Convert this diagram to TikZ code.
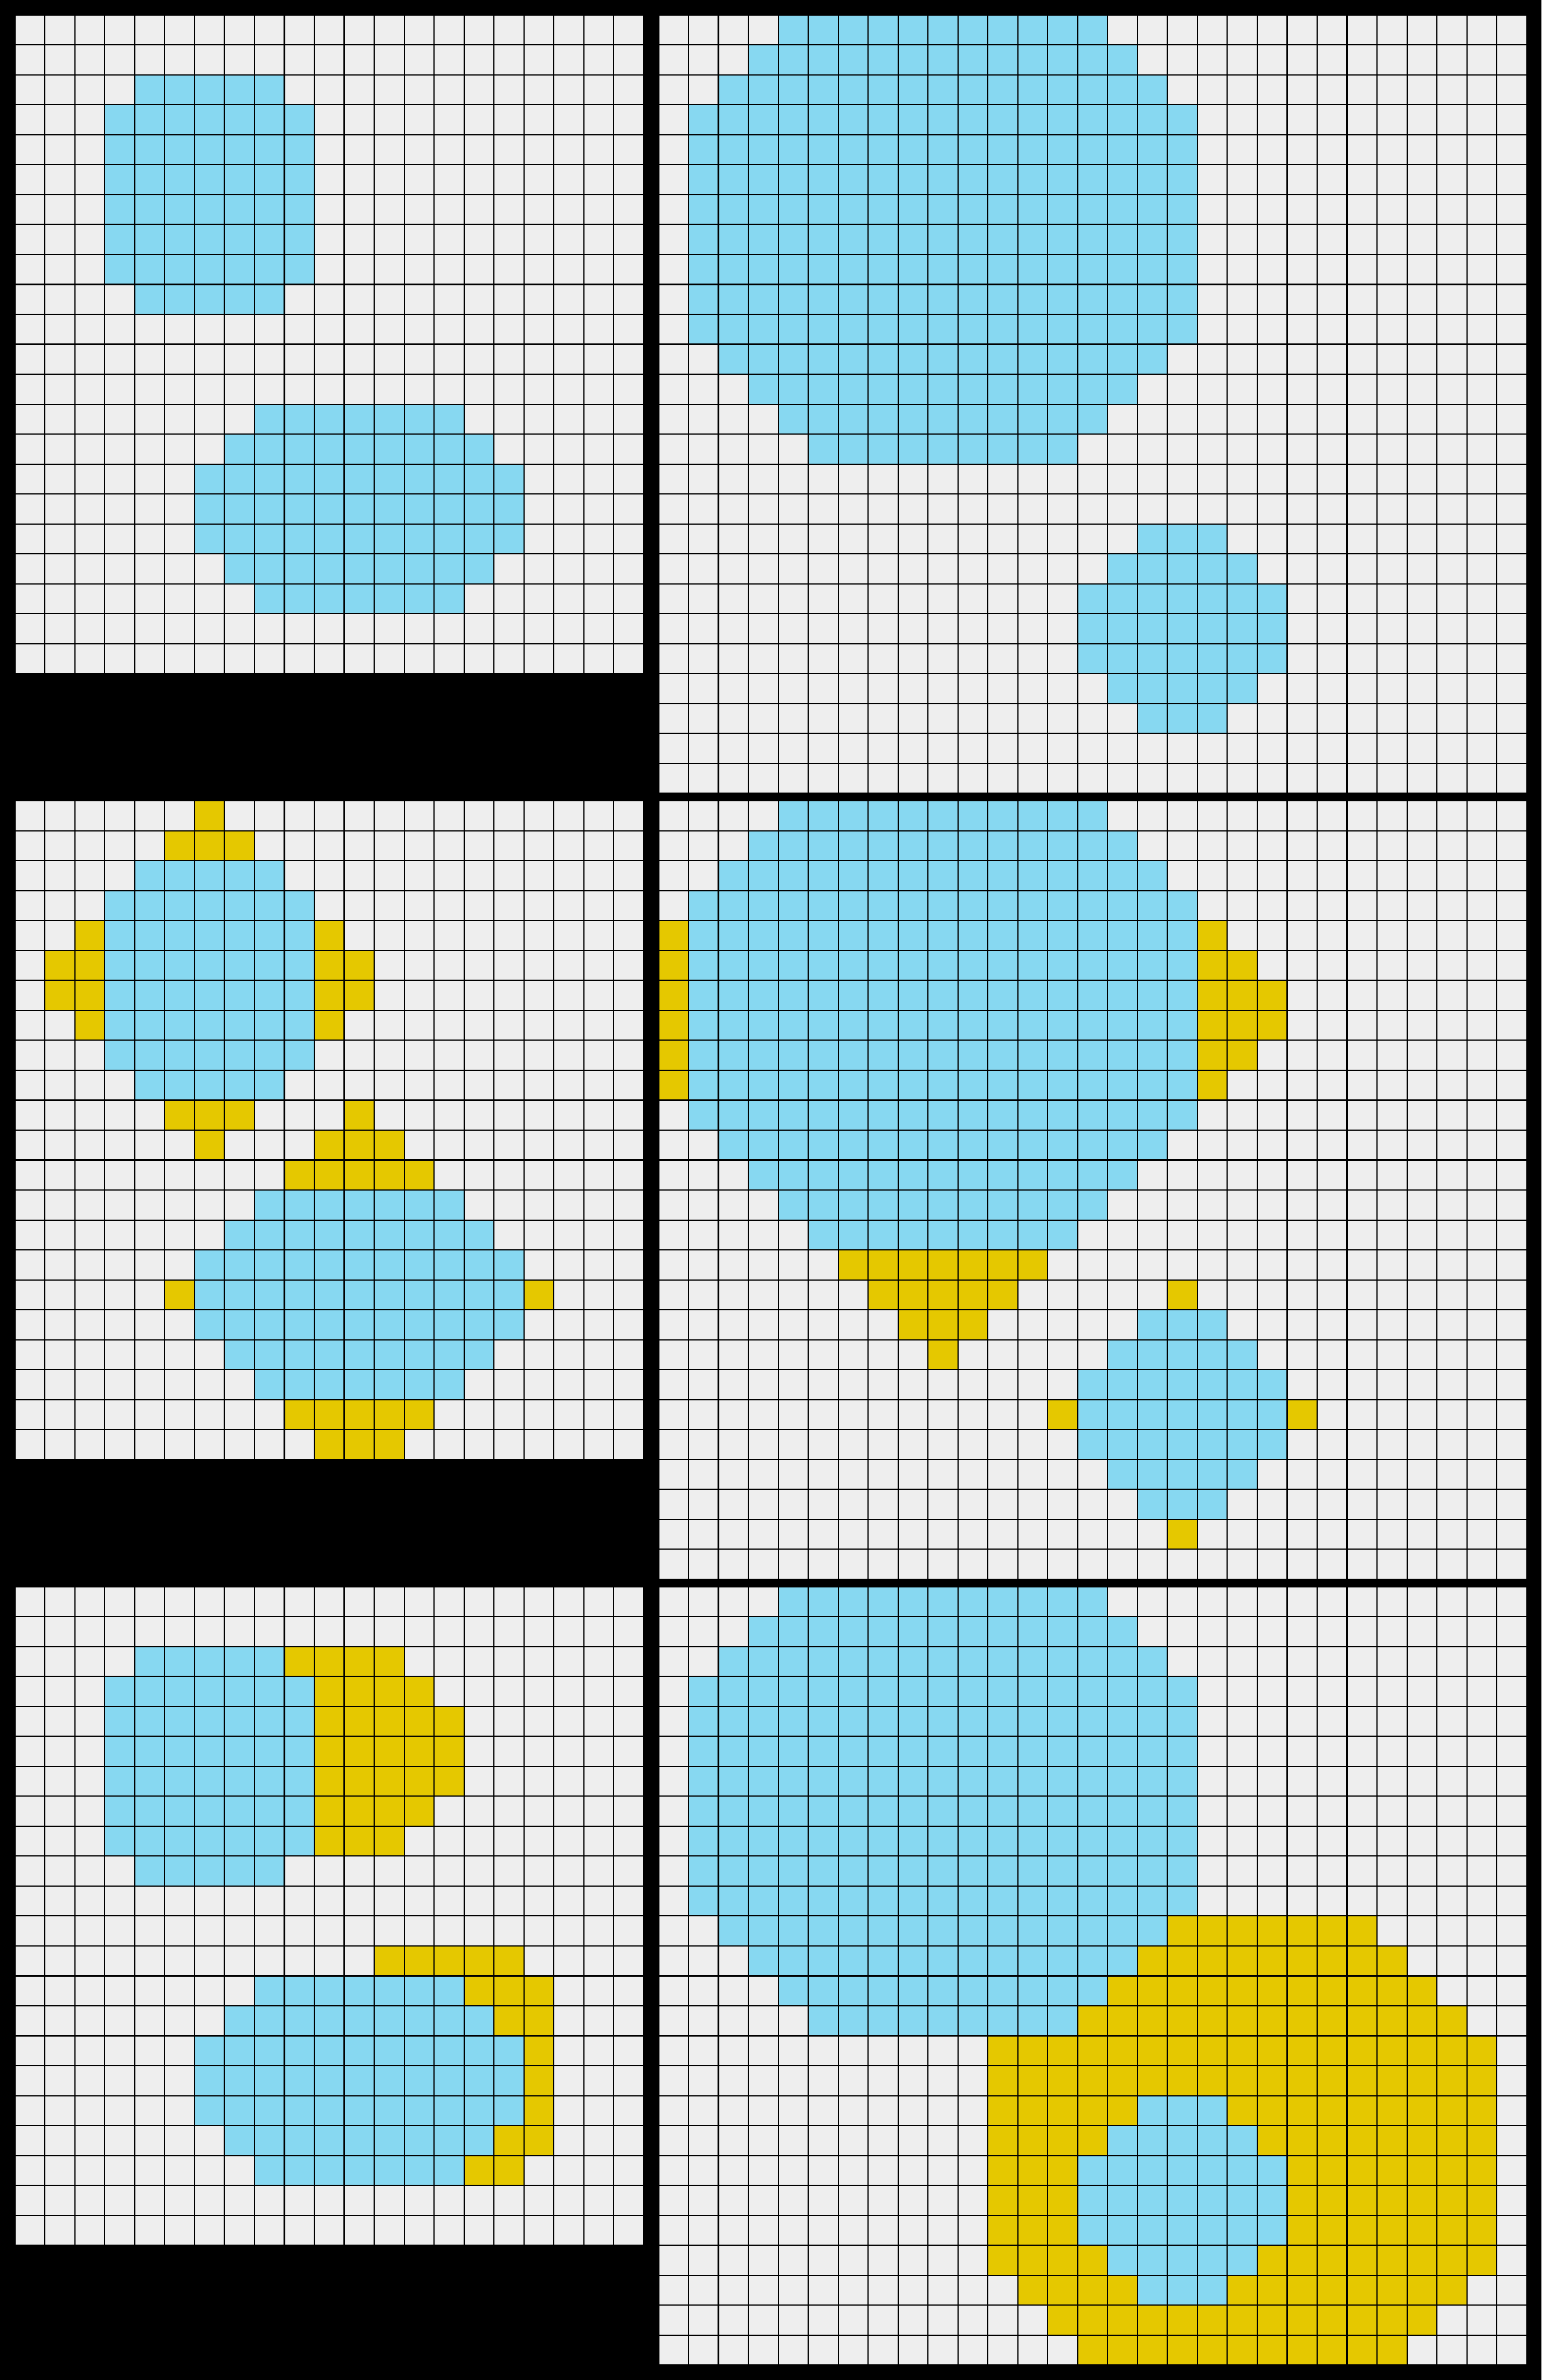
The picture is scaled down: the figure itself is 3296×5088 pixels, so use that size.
\documentclass[tikz,border=0pt]{standalone}
\definecolor{cellbg}{HTML}{EEEEEE}
\definecolor{bl}{HTML}{87D8F1}
\definecolor{ye}{HTML}{E5C800}
\tikzset{gridline/.style={draw=black, line width=2.6pt}}
\newcommand{\gridbase}[4]{\fill[cellbg] (#1,#2) rectangle ({#1+#3*64},{#2+#4*64});}
\newcommand{\gridlines}[4]{%
  \foreach \i in {0,...,#3} {\draw[gridline] ({#1+\i*64},#2) -- ({#1+\i*64},{#2+#4*64});}
  \foreach \j in {0,...,#4} {\draw[gridline] (#1,{#2+\j*64}) -- ({#1+#3*64},{#2+\j*64});}}
\newcommand{\runs}[4]{%
  \foreach \r/\a/\b in #4 {\fill[fill=#3] ({#1+\a*64},{#2+\r*64}) rectangle ({#1+(\b+1)*64},{#2+(\r+1)*64});}}
\def\Lblue{2/4/8,3/3/9,4/3/9,5/3/9,6/3/9,7/3/9,8/3/9,9/4/8,13/8/14,14/7/15,15/6/16,16/6/16,17/6/16,18/7/15,19/8/14}
\def\Rblue{0/4/14,1/3/15,2/2/16,3/1/17,4/1/17,5/1/17,6/1/17,7/1/17,8/1/17,9/1/17,10/1/17,11/2/16,12/3/15,13/4/14,14/5/13,17/16/18,18/15/19,19/14/20,20/14/20,21/14/20,22/15/19,23/16/18}
\def\LyB{0/6/6,1/5/7,4/2/2,4/10/10,5/1/2,5/10/11,6/1/2,6/10/11,7/2/2,7/10/10,10/5/7,10/11/11,11/6/6,11/10/12,12/9/13,16/5/5,16/17/17,20/9/13,21/10/12}
\def\LyC{2/9/12,3/10/13,4/10/14,5/10/14,6/10/14,7/10/13,8/10/12,12/12/16,13/15/17,14/16/17,15/17/17,16/17/17,17/17/17,18/16/17,19/15/16}
\def\RyB{4/0/0,4/18/18,5/0/0,5/18/19,6/0/0,6/18/20,7/0/0,7/18/20,8/0/0,8/18/19,9/0/0,9/18/18,15/6/12,16/7/11,16/17/17,17/8/10,18/9/9,20/13/13,20/21/21,24/17/17}
\def\RyC{11/17/23,12/16/24,13/15/25,14/14/26,15/11/27,16/11/27,17/11/15,17/19/27,18/11/14,18/20/27,19/11/13,19/21/27,20/11/13,20/21/27,21/11/13,21/21/27,22/11/14,22/20/27,23/12/15,23/19/26,24/13/25,25/14/24}
\begin{document}
\begin{tikzpicture}[x=1pt,y=-1pt]
\fill[black] (0,0) rectangle (3296,5088);
\useasboundingbox (0,0) rectangle (3296,5088);
% row 1
\gridbase{32}{32}{21}{22}
\runs{32}{32}{bl}{\Lblue}
\gridlines{32}{32}{21}{22}
\gridbase{1408}{32}{29}{26}
\runs{1408}{32}{bl}{\Rblue}
\gridlines{1408}{32}{29}{26}
% row 2
\gridbase{32}{1712}{21}{22}
\runs{32}{1712}{bl}{\Lblue}
\runs{32}{1712}{ye}{\LyB}
\gridlines{32}{1712}{21}{22}
\gridbase{1408}{1712}{29}{26}
\runs{1408}{1712}{bl}{\Rblue}
\runs{1408}{1712}{ye}{\RyB}
\gridlines{1408}{1712}{29}{26}
% row 3
\gridbase{32}{3392}{21}{22}
\runs{32}{3392}{bl}{\Lblue}
\runs{32}{3392}{ye}{\LyC}
\gridlines{32}{3392}{21}{22}
\gridbase{1408}{3392}{29}{26}
\runs{1408}{3392}{bl}{\Rblue}
\runs{1408}{3392}{ye}{\RyC}
\gridlines{1408}{3392}{29}{26}
\end{tikzpicture}
\end{document}
